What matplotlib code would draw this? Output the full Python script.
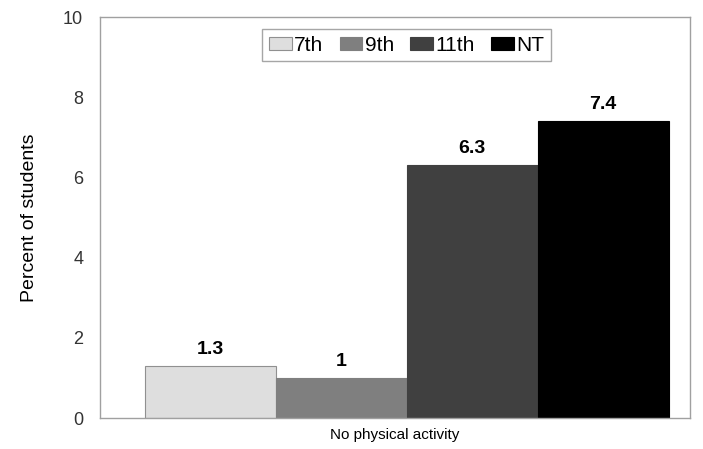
import numpy as np
import matplotlib.pyplot as plt

plt.rcParams['font.family'] = ['Liberation Sans', 'DejaVu Sans']

# data
category = "No physical activity"
groups = ["7th", "9th", "11th", "NT"]
values = [1.3, 1.0, 6.3, 7.4]
value_labels = ["1.3", "1", "6.3", "7.4"]
colors = ["#dedede", "#7f7f7f", "#404040", "#000000"]

fig = plt.figure(figsize=(7.03, 4.49), dpi=100)
ax = fig.add_axes([0.142, 0.069, 0.839, 0.893])

width = 0.222
start = -0.4237
for i, (g, v, c, lab) in enumerate(zip(groups, values, colors, value_labels)):
    x = start + i * width + width / 2
    ax.bar(x, v, width=width, color=c, edgecolor="#909090" if i == 0 else c,
           linewidth=0.8, label=g)
    ax.text(x, v + 0.2, lab, ha="center", va="bottom", fontsize=14,
            fontweight="bold")

ax.set_xlim(-0.5, 0.5)
ax.set_ylim(0, 10)
ax.set_yticks(np.arange(0, 11, 2))
ax.set_xticks([0])
ax.set_xticklabels([category], fontsize=11)
ax.tick_params(axis="y", length=0, labelsize=13, pad=12, colors="#333333")
ax.tick_params(axis="x", length=0, pad=7)
ax.set_ylabel("Percent of students", fontsize=14, labelpad=18)
for s in ax.spines.values():
    s.set_color("#a0a0a0")
    s.set_linewidth(1)

leg = ax.legend(loc="upper center", bbox_to_anchor=(0.52, 0.995), ncol=4,
                fontsize=15, frameon=True, fancybox=False, handlelength=1.1,
                handleheight=0.6, handletextpad=0.1, columnspacing=0.8,
                borderpad=0.3, edgecolor="#909090")
leg.get_frame().set_linewidth(1)

fig.savefig("out.png", dpi=100)
